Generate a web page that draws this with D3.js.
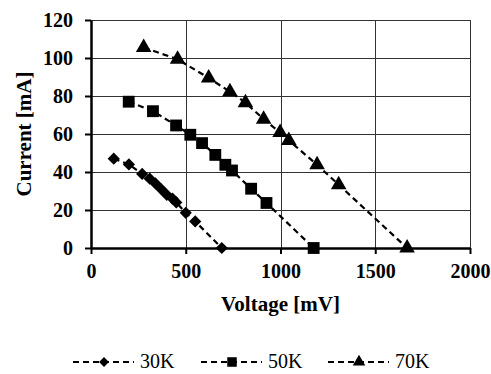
<!DOCTYPE html>
<html>
<head>
<meta charset="utf-8">
<script src="https://cdn.jsdelivr.net/npm/d3@7"></script>
<style>
  body { margin: 0; background: #fff; }
  svg { display: block; }
  svg text { font-family: "Liberation Serif", "Times New Roman", Times, "DejaVu Serif", serif; }
</style>
</head>
<body>
<div id="chart"></div>
<script>
// data (Voltage in mV, Current in mA)
var v30 = [120, 200, 270, 310, 340, 370, 400, 430, 450, 500, 550, 690];
var i30 = [47, 44, 39, 36.5, 34, 31, 28, 26, 24, 18.5, 14, 0];
var v50 = [199, 327, 449, 524, 586, 656, 709, 744, 845, 926, 1175];
var i50 = [77, 72, 64.5, 59.6, 55.2, 49, 43.8, 40.8, 31.2, 23.7, 0];
var v70 = [278, 457, 621, 733, 815, 911, 998, 1044, 1193, 1307, 1668];
var i70 = [105.5, 99.3, 89.5, 82.3, 76.5, 67.8, 60.8, 56.6, 43.8, 33.3, 0];
var seriesNames = ["30K", "50K", "70K"];
var xTicks = [0, 500, 1000, 1500, 2000];
var yTicks = [0, 20, 40, 60, 80, 100, 120];

var svgWidth = 491;
var svgHeight = 374;

var margin = {top: 20, right: 21, bottom: 126, left: 91};
var chartWidth = 470 - margin.left;
var chartHeight = 248 - margin.top;
var serif = "'Liberation Serif', 'Times New Roman', Times, 'DejaVu Serif', serif";

var svg = d3.select("#chart")
  .append("svg")
  .attr("width", svgWidth)
  .attr("height", svgHeight);

var xScale = d3.scaleLinear().domain([0, 2000]).range([0, chartWidth]);
var yScale = d3.scaleLinear().domain([0, 120]).range([chartHeight, 0]);

var chartGroup = svg.append("g")
  .attr("transform", `translate(${margin.left}, ${margin.top})`);

// gridlines
chartGroup.append("g")
  .selectAll("line")
  .data(yTicks.filter(d => d > 0))
  .enter()
  .append("line")
  .attr("x1", 0)
  .attr("x2", chartWidth)
  .attr("y1", d => Math.round(yScale(d)) + 0.5)
  .attr("y2", d => Math.round(yScale(d)) + 0.5)
  .attr("stroke", "#333")
  .attr("stroke-width", 1);

chartGroup.append("g")
  .selectAll("line")
  .data(xTicks.filter(d => d > 0))
  .enter()
  .append("line")
  .attr("y1", 0)
  .attr("y2", chartHeight)
  .attr("x1", d => Math.round(xScale(d)) + 0.5)
  .attr("x2", d => Math.round(xScale(d)) + 0.5)
  .attr("stroke", "#333")
  .attr("stroke-width", 1);

// axes
var bottomAxis = d3.axisBottom(xScale).tickValues(xTicks).tickFormat(d3.format("d"))
  .tickSize(6).tickSizeOuter(0).tickPadding(10);
var leftAxis = d3.axisLeft(yScale).tickValues(yTicks).tickFormat(d3.format("d"))
  .tickSize(6).tickSizeOuter(0).tickPadding(12);

var xAxisG = chartGroup.append("g")
  .attr("transform", `translate(0, ${chartHeight})`)
  .call(bottomAxis);

var yAxisG = chartGroup.append("g")
  .call(leftAxis);

[xAxisG, yAxisG].forEach(g => {
  g.attr("font-family", serif).attr("font-size", 20);
  g.selectAll("path").attr("stroke", "#000").attr("stroke-width", 2.5);
  g.selectAll("line").attr("stroke", "#000").attr("stroke-width", 2);
  g.selectAll("text")
    .attr("fill", "#000")
    .attr("font-weight", "bold");
});

// diamond drawn as a rotated square so it is as wide as it is tall
var series = [
  {name: seriesNames[0], v: v30, i: i30, shape: d3.symbolSquare, size: 74, rot: 45},
  {name: seriesNames[1], v: v50, i: i50, shape: d3.symbolSquare, size: 140, rot: 0},
  {name: seriesNames[2], v: v70, i: i70, shape: d3.symbolTriangle, size: 105, rot: 0}
];

var line = d3.line()
  .x(d => xScale(d[0]))
  .y(d => yScale(d[1]));

series.forEach(s => {
  var pts = s.v.map((x, k) => [x, s.i[k]]);
  chartGroup.append("path")
    .datum(pts)
    .attr("d", line)
    .attr("fill", "none")
    .attr("stroke", "#000")
    .attr("stroke-width", 2.2)
    .attr("stroke-dasharray", "6,4");

  chartGroup.append("g")
    .selectAll("path")
    .data(pts)
    .enter()
    .append("path")
    .attr("d", d3.symbol().type(s.shape).size(s.size))
    .attr("transform", d => `translate(${xScale(d[0])}, ${yScale(d[1])}) rotate(${s.rot})`)
    .attr("fill", "#000");
});

// axis titles
svg.append("text")
  .attr("transform", `translate(31, ${margin.top + chartHeight / 2}) rotate(-90)`)
  .attr("text-anchor", "middle")
  .attr("font-family", serif)
  .attr("font-weight", "bold")
  .attr("font-size", 21)
  .text("Current [mA]");

svg.append("text")
  .attr("x", margin.left + chartWidth / 2)
  .attr("y", 311)
  .attr("text-anchor", "middle")
  .attr("font-family", serif)
  .attr("font-weight", "bold")
  .attr("font-size", 21)
  .text("Voltage [mV]");

// legend
var legendX = [73, 201, 328];
var legendY = 362;
var legend = svg.append("g");

series.forEach((s, k) => {
  var item = legend.append("g").attr("transform", `translate(${legendX[k]}, ${legendY})`);
  item.append("line")
    .attr("x1", 0)
    .attr("x2", 61)
    .attr("y1", 0)
    .attr("y2", 0)
    .attr("stroke", "#000")
    .attr("stroke-width", 2.2)
    .attr("stroke-dasharray", "6,4");
  item.append("path")
    .attr("d", d3.symbol().type(s.shape).size(s.size * 0.65))
    .attr("transform", `translate(31, 0) rotate(${s.rot})`)
    .attr("fill", "#000");
  item.append("text")
    .attr("x", 67)
    .attr("y", 6)
    .attr("font-family", serif)
    .attr("font-size", 20)
    .text(s.name);
});
</script>
</body>
</html>
